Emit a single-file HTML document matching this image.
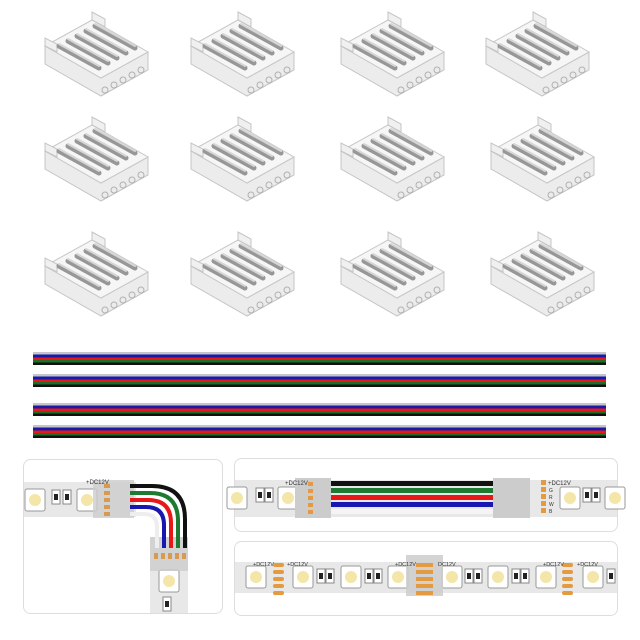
<!DOCTYPE html>
<html><head><meta charset="utf-8"><style>
html,body{margin:0;padding:0;background:#fff}
svg{display:block}
text{font-family:"Liberation Sans",sans-serif}
</style></head><body>
<svg width="640" height="640" viewBox="0 0 640 640" xmlns="http://www.w3.org/2000/svg">
<defs>
<g id="conn">
  <polygon points="-52,-14 -52,4 4,36 51,10 51,-8 4,18" fill="#ececec" stroke="#c4c4c4" stroke-width="1"/>
  <polygon points="-52,-14 -5,-40 51,-8 4,18" fill="#f6f6f6" stroke="#c8c8c8" stroke-width="1"/>
  <polygon points="-5,-40 -5,-48 8,-41 8,-33" fill="#f0f0f0" stroke="#c4c4c4"/>
  <polygon points="-52,-14 -52,-22 -40,-16 -40,-8" fill="#f0f0f0" stroke="#c4c4c4"/>
  <g stroke-linecap="round">
    <line x1="-38" y1="-14" x2="2" y2="8" stroke="#979797" stroke-width="5"/>
    <line x1="-29" y1="-19" x2="11" y2="3" stroke="#979797" stroke-width="5"/>
    <line x1="-20" y1="-24" x2="20" y2="-2" stroke="#979797" stroke-width="5"/>
    <line x1="-11" y1="-29" x2="29" y2="-7" stroke="#979797" stroke-width="5"/>
    <line x1="-2" y1="-34" x2="38" y2="-12" stroke="#979797" stroke-width="5"/>
    <line x1="-38" y1="-16" x2="2" y2="6" stroke="#d6d6d6" stroke-width="2"/>
    <line x1="-29" y1="-21" x2="11" y2="1" stroke="#d6d6d6" stroke-width="2"/>
    <line x1="-20" y1="-26" x2="20" y2="-4" stroke="#d6d6d6" stroke-width="2"/>
    <line x1="-11" y1="-31" x2="29" y2="-9" stroke="#d6d6d6" stroke-width="2"/>
    <line x1="-2" y1="-36" x2="38" y2="-14" stroke="#d6d6d6" stroke-width="2"/>
  </g>
  <g fill="none" stroke="#b0b0b0">
    <circle cx="8" cy="30" r="3"/><circle cx="17" cy="25" r="3"/><circle cx="26" cy="20" r="3"/><circle cx="35" cy="15" r="3"/><circle cx="44" cy="10" r="3"/>
  </g>
</g>
<g id="cable">
  <rect x="33" y="0" width="573" height="2.5" fill="#c4c6cc"/>
  <rect x="33" y="2.5" width="573" height="3" fill="#1a1aa8"/>
  <rect x="33" y="5.5" width="573" height="2.5" fill="#e81818"/>
  <rect x="33" y="8" width="573" height="2.5" fill="#1e6e2a"/>
  <rect x="33" y="10.5" width="573" height="2.5" fill="#111"/>
</g>
<g id="led">
  <rect x="0" y="0" width="20" height="22" rx="2" fill="#fff" stroke="#999"/>
  <circle cx="10" cy="11" r="6" fill="#f3e6a8"/>
</g>
<g id="res">
  <rect x="0" y="0" width="8" height="14" fill="#fff" stroke="#888"/>
  <rect x="2" y="4" width="4" height="6" fill="#222"/>
</g>
</defs>

<use href="#conn" x="97" y="60"/><use href="#conn" x="243" y="60"/><use href="#conn" x="393" y="60"/><use href="#conn" x="538" y="60"/>
<use href="#conn" x="97" y="165"/><use href="#conn" x="243" y="165"/><use href="#conn" x="393" y="165"/><use href="#conn" x="543" y="165"/>
<use href="#conn" x="97" y="280"/><use href="#conn" x="243" y="280"/><use href="#conn" x="393" y="280"/><use href="#conn" x="543" y="280"/>

<use href="#cable" y="352"/><use href="#cable" y="374"/><use href="#cable" y="403"/><use href="#cable" y="425"/>

<rect x="23.5" y="459.5" width="199" height="154" rx="7" fill="#fff" stroke="#ddd"/>
<rect x="234.5" y="458.5" width="383" height="73" rx="7" fill="#fff" stroke="#ddd"/>
<rect x="234.5" y="541.5" width="383" height="74" rx="7" fill="#fff" stroke="#ddd"/>

<rect x="24" y="482" width="112" height="35" fill="#e8e8e8"/>
<rect x="150" y="537" width="38" height="76" fill="#e8e8e8"/>
<use href="#led" x="25" y="489"/><use href="#res" x="52" y="490"/><use href="#res" x="63" y="490"/><use href="#led" x="77" y="489"/>
<use href="#led" x="159" y="570"/><use href="#res" x="163" y="597"/>
<rect x="93" y="480" width="41" height="38" fill="#ccc" opacity="0.8"/>
<rect x="150" y="537" width="38" height="34" fill="#ccc" opacity="0.8"/>
<g fill="none" stroke-width="4">
  <path d="M130,486 H152 Q185,486 185,519 V548" stroke="#111"/>
  <path d="M130,493 H150 Q178,493 178,521 V548" stroke="#1e7a30"/>
  <path d="M130,500 H148 Q171,500 171,523 V548" stroke="#e81818"/>
  <path d="M130,507 H146 Q164,507 164,525 V548" stroke="#1818b0"/>
  <path d="M130,514 H144 Q157,514 157,527 V548" stroke="#eee"/>
</g>
<g fill="#d89a50"><rect x="104" y="484" width="6" height="4"/><rect x="104" y="491" width="6" height="4"/><rect x="104" y="498" width="6" height="4"/><rect x="104" y="505" width="6" height="4"/><rect x="104" y="512" width="6" height="4"/>
<rect x="154" y="553" width="4" height="6"/><rect x="161" y="553" width="4" height="6"/><rect x="168" y="553" width="4" height="6"/><rect x="175" y="553" width="4" height="6"/><rect x="182" y="553" width="4" height="6"/></g>
<text x="86" y="484" font-size="6" fill="#333">+DC12V</text>

<rect x="235" y="480" width="382" height="37" fill="#e8e8e8"/>
<use href="#led" x="235" y="487" transform="translate(-8,0)"/><use href="#res" x="256" y="488"/><use href="#res" x="265" y="488"/><use href="#led" x="278" y="487"/>
<rect x="295" y="478" width="36" height="40" fill="#ccc"/>
<rect x="493" y="478" width="37" height="40" fill="#ccc"/>
<rect x="331" y="481" width="162" height="5" fill="#111"/>
<rect x="331" y="488" width="162" height="5" fill="#1e7a30"/>
<rect x="331" y="495" width="162" height="5" fill="#e81818"/>
<rect x="331" y="502" width="162" height="5" fill="#1818b0"/>
<rect x="331" y="509" width="162" height="5" fill="#f4f4f4"/>
<g fill="#e49a40"><rect x="308" y="482" width="5" height="4"/><rect x="308" y="489" width="5" height="4"/><rect x="308" y="496" width="5" height="4"/><rect x="308" y="503" width="5" height="4"/><rect x="308" y="510" width="5" height="4"/>
<rect x="541" y="480" width="5" height="5"/><rect x="541" y="487" width="5" height="5"/><rect x="541" y="494" width="5" height="5"/><rect x="541" y="501" width="5" height="5"/><rect x="541" y="508" width="5" height="5"/></g>
<text x="285" y="485" font-size="6" fill="#333">+DC12V</text>
<text x="548" y="485" font-size="6" fill="#333">+DC12V</text>
<g font-size="5" fill="#333"><text x="549" y="492">G</text><text x="549" y="499">R</text><text x="549" y="506">W</text><text x="549" y="513">B</text></g>
<use href="#led" x="560" y="487"/><use href="#res" x="583" y="488"/><use href="#res" x="592" y="488"/><use href="#led" x="605" y="487"/>

<rect x="235" y="562" width="382" height="31" fill="#e8e8e8"/>
<use href="#led" x="246" y="566"/><use href="#led" x="293" y="566"/><use href="#res" x="317" y="569"/><use href="#res" x="326" y="569"/><use href="#led" x="341" y="566"/>
<use href="#res" x="365" y="569"/><use href="#res" x="374" y="569"/><use href="#led" x="388" y="566"/>
<use href="#led" x="442" y="566"/><use href="#res" x="465" y="569"/><use href="#res" x="474" y="569"/><use href="#led" x="488" y="566"/>
<use href="#res" x="512" y="569"/><use href="#res" x="521" y="569"/><use href="#led" x="536" y="566"/><use href="#led" x="583" y="566"/><use href="#res" x="607" y="569"/>
<rect x="406" y="555" width="37" height="41" fill="#ccc" opacity="0.85"/>
<g fill="#e49a40">
<rect x="273" y="563" width="11" height="4" rx="2"/><rect x="273" y="570" width="11" height="4" rx="2"/><rect x="273" y="577" width="11" height="4" rx="2"/><rect x="273" y="584" width="11" height="4" rx="2"/><rect x="273" y="591" width="11" height="4" rx="2"/>
<rect x="562" y="563" width="11" height="4" rx="2"/><rect x="562" y="570" width="11" height="4" rx="2"/><rect x="562" y="577" width="11" height="4" rx="2"/><rect x="562" y="584" width="11" height="4" rx="2"/><rect x="562" y="591" width="11" height="4" rx="2"/>
<rect x="416" y="563" width="17" height="4"/><rect x="416" y="570" width="17" height="4"/><rect x="416" y="577" width="17" height="4"/><rect x="416" y="584" width="17" height="4"/><rect x="416" y="591" width="17" height="4"/>
</g>
<g font-size="5.5" fill="#333">
<text x="253" y="566">+DC12V</text><text x="287" y="566">+DC12V</text>
<text x="395" y="566">+DC12V</text><text x="438" y="566">DC12V</text>
<text x="543" y="566">+DC12V</text><text x="577" y="566">+DC12V</text>
</g>
</svg>
</body></html>
